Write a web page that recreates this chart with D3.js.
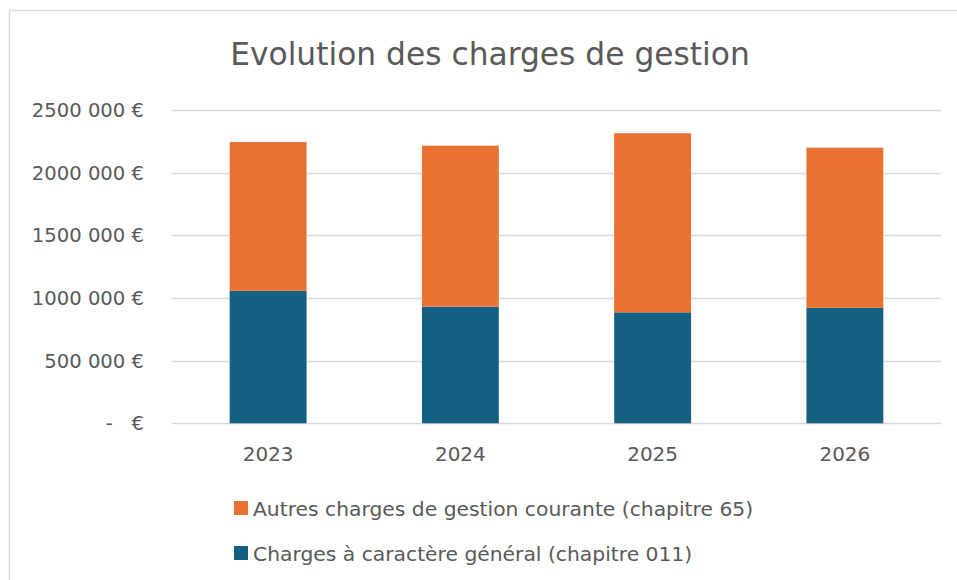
<!DOCTYPE html>
<html>
<head>
<meta charset="utf-8">
<script src="https://cdn.jsdelivr.net/npm/d3@7"></script>
<style>
  body { margin: 0; background: #fff; }
  text { font-family: "DejaVu Sans", sans-serif; fill: #595959; }
</style>
</head>
<body>
<svg id="chart" width="957" height="580"></svg>
<script>
// data
const years = ["2023", "2024", "2025", "2026"];
const generales = [1057000, 930000, 885000, 921000];   // chapitre 011
const autres = [1186000, 1284000, 1428000, 1277000];    // chapitre 65
const yTicks = [0, 500000, 1000000, 1500000, 2000000, 2500000];
const yTickLabels = ["-   €", "500 000 €", "1000 000 €", "1500 000 €", "2000 000 €", "2500 000 €"];
const seriesNames = ["Autres charges de gestion courante (chapitre 65)", "Charges à caractère général (chapitre 011)"];
const colors = { gen: "#156082", autres: "#E97132" };

let svg = d3.select("#chart"),
  width = +svg.attr("width"),
  height = +svg.attr("height");

// chart frame
svg.append("rect")
  .attr("x", 9.5).attr("y", 10.5)
  .attr("width", 980).attr("height", 620)
  .attr("fill", "#fff")
  .attr("stroke", "#d9d9d9")
  .attr("stroke-width", 1.5);

svg.append("text")
  .attr("x", 490).attr("y", 65)
  .attr("text-anchor", "middle")
  .attr("font-size", 31.3)
  .text("Evolution des charges de gestion");

const x = d3.scaleBand().domain(years).range([172, 941]).paddingInner(0.6).paddingOuter(0.3);
const y = d3.scaleLinear().domain([0, 2500000]).range([423.3, 109.8]);

// gridlines
svg.append("g")
  .selectAll("line")
  .data(yTicks)
  .enter().append("line")
  .attr("x1", 172).attr("x2", 941)
  .attr("y1", d => Math.round(y(d)) + 0.5)
  .attr("y2", d => Math.round(y(d)) + 0.5)
  .attr("stroke", "#d9d9d9")
  .attr("stroke-width", 1.5);

// y labels
svg.append("g")
  .selectAll("text")
  .data(yTicks)
  .enter().append("text")
  .attr("x", 144)
  .attr("y", d => y(d) + 7)
  .attr("text-anchor", "end")
  .attr("font-size", 19.6)
  .style("white-space", "pre")
  .text((d, i) => yTickLabels[i]);

// stacked bars
const rows = years.map((yr, i) => ({ year: yr, gen: generales[i], autres: autres[i] }));
const stack = d3.stack().keys(["gen", "autres"])(rows);

svg.append("g")
  .selectAll("g")
  .data(stack)
  .enter().append("g")
  .attr("fill", d => colors[d.key])
  .selectAll("rect")
  .data(d => d)
  .enter().append("rect")
  .attr("x", d => x(d.data.year))
  .attr("width", x.bandwidth())
  .attr("y", d => y(d[1]))
  .attr("height", d => y(d[0]) - y(d[1]));

// x labels
svg.append("g")
  .selectAll("text")
  .data(years)
  .enter().append("text")
  .attr("x", d => x(d) + x.bandwidth() / 2)
  .attr("y", 461)
  .attr("text-anchor", "middle")
  .attr("font-size", 20)
  .text(d => d);

// legend
const legend = svg.append("g")
  .selectAll("g")
  .data([{ name: seriesNames[0], c: colors.autres }, { name: seriesNames[1], c: colors.gen }])
  .enter().append("g")
  .attr("transform", (d, i) => "translate(234," + (501 + i * 45) + ")");

legend.append("rect")
  .attr("width", 14).attr("height", 14)
  .attr("fill", d => d.c);

legend.append("text")
  .attr("x", 19).attr("y", 14.5)
  .attr("font-size", 20.3)
  .text(d => d.name);
</script>
</body>
</html>
